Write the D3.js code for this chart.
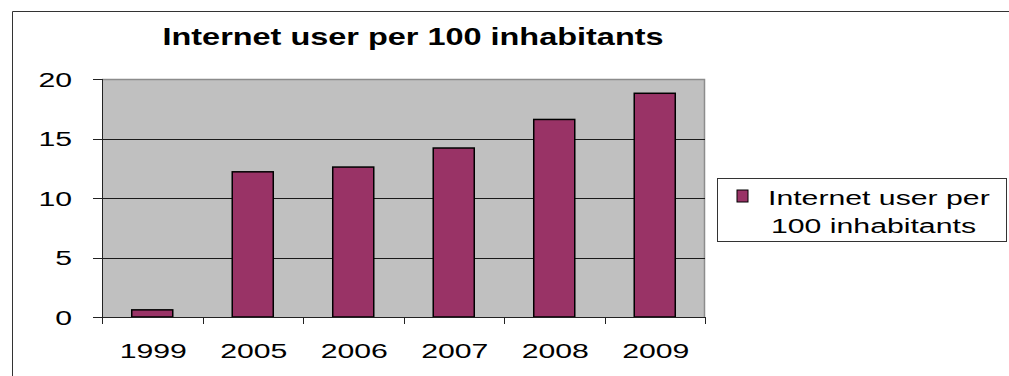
<!DOCTYPE html>
<html>
<head>
<meta charset="utf-8">
<script src="https://cdn.jsdelivr.net/npm/d3@7"></script>
<style>
  body { margin: 0; background: #fff; }
  svg { display: block; font-family: "Liberation Sans", Arial, sans-serif; }
</style>
</head>
<body>
<div id="chart"></div>
<script>
// 数据
const years = ['1999', '2005', '2006', '2007', '2008', '2009'];
const users = [0.6, 12.2, 12.6, 14.2, 16.6, 18.8];
const yTicks = [0, 5, 10, 15, 20];
const title = 'Internet user per 100 inhabitants';
const legendLines = ['Internet user per', '100 inhabitants'];

const width = 1009;
const height = 376;
const plot = {left: 102, right: 705, top: 79, bottom: 317};
const stretch = 1.44; // 原图文字被横向拉伸

const svg = d3.select('#chart')
  .append('svg')
  .attr('width', width)
  .attr('height', height);

// 外框
svg.append('path')
  .attr('d', `M12.5,${height} V11.5 H${width}`)
  .attr('fill', 'none')
  .attr('stroke', '#333')
  .attr('stroke-width', 1);

const x = d3.scaleBand()
  .domain(years)
  .range([plot.left, plot.right])
  .padding(0);

const y = d3.scaleLinear()
  .domain([0, 20])
  .range([plot.bottom, plot.top]);

// 绘图区背景
svg.append('rect')
  .attr('x', plot.left)
  .attr('y', plot.top)
  .attr('width', plot.right - plot.left)
  .attr('height', plot.bottom - plot.top)
  .attr('fill', '#c0c0c0');

// 顶部和右侧灰边
svg.append('path')
  .attr('d', `M${plot.left},${plot.top + 0.5} H${plot.right - 0.5} V${plot.bottom}`)
  .attr('fill', 'none')
  .attr('stroke', '#8c8c8c')
  .attr('stroke-width', 1.5);

// 网格线
svg.selectAll('.grid')
  .data(yTicks.filter(d => d > 0 && d < 20))
  .enter()
  .append('line')
  .attr('class', 'grid')
  .attr('x1', plot.left)
  .attr('x2', plot.right)
  .attr('y1', d => Math.round(y(d)) + 0.5)
  .attr('y2', d => Math.round(y(d)) + 0.5)
  .attr('stroke', '#1a1a1a')
  .attr('stroke-width', 1);

// 柱子
const barW = x.bandwidth() / 2.45;
svg.selectAll('.bar')
  .data(years.map((d, i) => ({year: d, value: users[i]})))
  .enter()
  .append('rect')
  .attr('class', 'bar')
  .attr('x', d => x(d.year) + (x.bandwidth() - barW) / 2)
  .attr('y', d => y(d.value))
  .attr('width', barW)
  .attr('height', d => y(0) - y(d.value))
  .attr('fill', '#993366')
  .attr('stroke', '#000')
  .attr('stroke-width', 1.5);

// Y 轴
svg.append('line')
  .attr('x1', plot.left + 0.5).attr('x2', plot.left + 0.5)
  .attr('y1', plot.top).attr('y2', plot.bottom)
  .attr('stroke', '#222');

svg.selectAll('.ytick')
  .data(yTicks)
  .enter()
  .append('line')
  .attr('class', 'ytick')
  .attr('x1', plot.left - 9)
  .attr('x2', plot.left)
  .attr('y1', d => Math.round(y(d)) + 0.5)
  .attr('y2', d => Math.round(y(d)) + 0.5)
  .attr('stroke', '#222');

svg.selectAll('.ylabel')
  .data(yTicks)
  .enter()
  .append('text')
  .attr('class', 'ylabel')
  .attr('transform', d => `translate(72,${y(d) + 7.5}) scale(${stretch},1)`)
  .attr('text-anchor', 'end')
  .style('font-size', '21px')
  .attr('fill', '#000')
  .text(d => d);

// X 轴
svg.append('line')
  .attr('x1', plot.left).attr('x2', plot.right)
  .attr('y1', plot.bottom + 0.5).attr('y2', plot.bottom + 0.5)
  .attr('stroke', '#222');

svg.selectAll('.xtick')
  .data(years.map(d => x(d)).concat([x.range()[1]]))
  .enter()
  .append('line')
  .attr('class', 'xtick')
  .attr('x1', d => Math.round(d) + 0.5)
  .attr('x2', d => Math.round(d) + 0.5)
  .attr('y1', plot.bottom)
  .attr('y2', plot.bottom + 7)
  .attr('stroke', '#222');

svg.selectAll('.xlabel')
  .data(years)
  .enter()
  .append('text')
  .attr('class', 'xlabel')
  .attr('transform', d => `translate(${x(d) + x.bandwidth() / 2 + 1},358) scale(${stretch},1)`)
  .attr('text-anchor', 'middle')
  .style('font-size', '21px')
  .attr('fill', '#000')
  .text(d => d);

// 标题
svg.append('text')
  .attr('transform', `translate(413,45) scale(${stretch * 0.98},1)`)
  .attr('text-anchor', 'middle')
  .style('font-size', '23px')
  .style('font-weight', 'bold')
  .attr('fill', '#000')
  .text(title);

// 图例
const legend = svg.append('g');
legend.append('rect')
  .attr('x', 717.5)
  .attr('y', 178.5)
  .attr('width', 289)
  .attr('height', 63)
  .attr('fill', '#fff')
  .attr('stroke', '#333')
  .attr('stroke-width', 1);

legend.append('rect')
  .attr('x', 737)
  .attr('y', 190)
  .attr('width', 11)
  .attr('height', 12)
  .attr('fill', '#993366')
  .attr('stroke', '#000')
  .attr('stroke-width', 1);

legend.selectAll('.legend-text')
  .data(legendLines)
  .enter()
  .append('text')
  .attr('class', 'legend-text')
  .attr('transform', (d, i) => `translate(${i === 0 ? 768 : 771},${205 + i * 28}) scale(${stretch},1)`)
  .style('font-size', '21px')
  .attr('fill', '#000')
  .text(d => d);
</script>
</body>
</html>
